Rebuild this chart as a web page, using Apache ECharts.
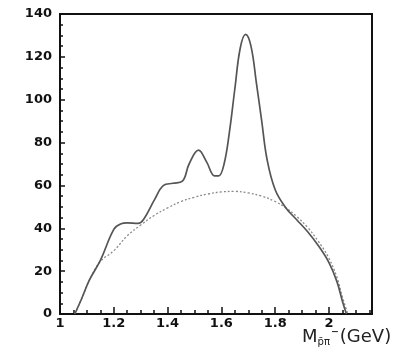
<!DOCTYPE html>
<html>
<head>
<meta charset="utf-8">
<script src="https://cdn.jsdelivr.net/npm/echarts@6/dist/echarts.min.js"></script>
<style>
html,body{margin:0;padding:0;background:#fff;}
#c{width:399px;height:352px;}
</style>
</head>
<body>
<div id="c"></div>
<script>
// Full fit (solid curve)
const fitX = [1.055,1.08,1.11,1.15,1.20,1.225,1.25,1.29,1.31,1.35,1.385,1.42,1.455,1.48,1.515,1.545,1.575,1.59,1.61,1.63,1.65,1.67,1.69,1.71,1.73,1.75,1.77,1.80,1.84,1.88,1.92,1.96,2.00,2.03,2.05,2.065];
const fitY = [0,7,16,25,39.5,42,42.5,42.3,44,53,60,61,62,70,76.5,71,64.5,64.5,70,85,105,124,130.5,125,108,90,72,58,49.5,44,38.5,32,24,15,6,0];
// Phase space (dotted curve)
const psX = [1.055,1.08,1.11,1.15,1.20,1.25,1.30,1.35,1.40,1.45,1.50,1.55,1.60,1.65,1.70,1.75,1.80,1.84,1.88,1.92,1.96,2.00,2.03,2.05,2.07];
const psY = [0,7,16,24.5,29.5,36.5,41.5,46,49.5,52.5,54.5,56,57,57.2,56.5,55,52.5,49.5,45.5,40.5,34,26,17,8,0];
// Axes
const xMin = 1, xMax = 2.16, xMajor = 0.2, xMinor = 0.05;
const yMin = 0, yMax = 140, yMajor = 20;
const xTitle = '{m|M}{s|p\u0304\u03c0}{d|\u207b}{g|(GeV)}';

const pair = (xs, ys) => xs.map((x, i) => [x, ys[i]]);
const labelFont = {fontFamily: 'DejaVu Sans', fontWeight: 'bold', fontSize: 13, color: '#111'};

const chart = echarts.init(document.getElementById('c'), null, {renderer: 'canvas'});
chart.setOption({
  animation: false,
  backgroundColor: '#fff',
  title: {
    text: xTitle, left: 302, top: 328, padding: 0,
    textStyle: {
      rich: {
        m: {fontFamily: 'DejaVu Sans', fontSize: 18, fontWeight: 'normal', color: '#222', lineHeight: 18, verticalAlign: 'top'},
        g: {fontFamily: 'DejaVu Sans', fontSize: 18, fontWeight: 'normal', color: '#222', lineHeight: 18, verticalAlign: 'top', padding: [0, 0, 0, 1]},
        s: {fontFamily: 'DejaVu Sans', fontSize: 10, fontWeight: 'normal', color: '#222', lineHeight: 10, padding: [9, 1, 0, 0], verticalAlign: 'top'},
        d: {fontFamily: 'DejaVu Sans', fontWeight: 'bold', fontSize: 15, color: '#222', lineHeight: 18, verticalAlign: 'top'}
      }
    }
  },
  grid: {left: 60, right: 27, top: 14, bottom: 38, containLabel: false, outerBoundsMode: 'none',
    show: true, borderColor: '#111', borderWidth: 2, backgroundColor: 'transparent'},
  xAxis: [{
    type: 'value', min: xMin, max: xMax, interval: xMajor,
    axisLine: {lineStyle: {color: '#111', width: 2}},
    axisTick: {inside: true, length: 7, lineStyle: {color: '#111', width: 1.5}},
    axisLabel: Object.assign({margin: 3, showMaxLabel: false, formatter: v => String(+v.toFixed(2))}, labelFont),
    splitLine: {show: false}
  }, {
    type: 'value', min: xMin, max: xMax, interval: xMinor, position: 'bottom',
    axisLine: {show: false},
    axisTick: {inside: true, length: 4, lineStyle: {color: '#111', width: 1.5}},
    axisLabel: {show: false}, splitLine: {show: false}
  }],
  yAxis: {
    type: 'value', min: yMin, max: yMax, interval: yMajor,
    axisLine: {show: true, lineStyle: {color: '#111', width: 2}},
    axisTick: {show: true, inside: true, length: 5, lineStyle: {color: '#111', width: 1.5}},
    minorTick: {show: true, splitNumber: 4, length: 3, lineStyle: {color: '#111', width: 1.5}},
    axisLabel: Object.assign({margin: 8}, labelFont),
    splitLine: {show: false}
  },
  series: [{
    type: 'line', xAxisIndex: 0, data: pair(psX, psY), smooth: 0.4, showSymbol: false,
    lineStyle: {color: '#8a8a8a', width: 1.3, type: [2, 2]}
  }, {
    type: 'line', xAxisIndex: 0, data: pair(fitX, fitY), smooth: 0.4, showSymbol: false,
    lineStyle: {color: '#555', width: 1.7}
  }]
});
</script>
</body>
</html>
